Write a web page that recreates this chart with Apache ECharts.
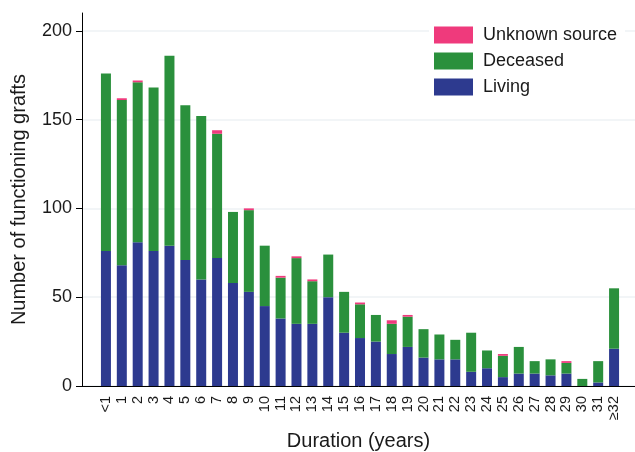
<!DOCTYPE html>
<html>
<head>
<meta charset="utf-8">
<script src="https://cdn.jsdelivr.net/npm/echarts@6/dist/echarts.min.js"></script>
<style>html,body{margin:0;padding:0;background:#fff}#c{width:635px;height:452px}</style>
</head>
<body>
<div id="c"></div>
<script>
const categories = ['<1','1','2','3','4','5','6','7','8','9','10','11','12','13','14','15','16','17','18','19','20','21','22','23','24','25','26','27','28','29','30','31','≥32'];
const living   = [76,68,81,76,79,71,60,72,58,53,45,38,35,35,50,30,27,25,18,22,16,15,15,8,10,5,7,7,6,7,0,2,21];
const deceased = [100,93,90,92,107,87,92,70,40,46,34,23,37,24,24,23,19,15,17,17,16,14,11,22,10,12,15,7,9,6,4,12,34];
const unknown  = [0,1,1,0,0,0,0,2,0,1,0,1,1,1,0,0,1,0,2,1,0,0,0,0,0,1,0,0,0,1,0,0,0];
const yTicks = [0,50,100,150,200];

const FONT = 'Liberation Sans, Arial, sans-serif';
const TXT = '#1a1a1a';

const chart = echarts.init(document.getElementById('c'), null, {renderer:'canvas'});
chart.setOption({
  backgroundColor:'#ffffff',
  animation:false,
  textStyle:{fontFamily:FONT},
  grid:[
    {left:98,right:13,top:13,bottom:66,containLabel:false,outerBoundsMode:'none'},
    {left:82,right:0,top:13,bottom:66,containLabel:false,outerBoundsMode:'none'}
  ],
  legend:{
    orient:'vertical', left:429, top:21,
    padding:[5,8,5,5],
    backgroundColor:'#ffffff',
    itemWidth:39, itemHeight:17, itemGap:8,
    icon:'rect',
    textStyle:{fontFamily:FONT,fontSize:18,color:TXT,lineHeight:17,padding:[0,0,0,5]},
    data:['Unknown source','Deceased','Living']
  },
  xAxis:[
    {
      type:'category', gridIndex:0, data:categories, boundaryGap:true,
      axisLine:{show:false}, axisTick:{show:false}, splitLine:{show:false},
      axisLabel:{interval:0, rotate:90, margin:10, fontFamily:FONT, fontSize:14.5, color:TXT}
    },
    {
      type:'value', gridIndex:1, min:0, max:1,
      name:'Duration (years)', nameLocation:'middle', nameGap:45,
      nameTextStyle:{fontFamily:FONT,fontSize:20,color:TXT},
      axisLine:{show:true,onZero:false,lineStyle:{color:'#000',width:1}},
      axisTick:{show:false}, axisLabel:{show:false}, splitLine:{show:false}
    }
  ],
  yAxis:[
    {type:'value', gridIndex:0, min:0, max:210, show:false, splitLine:{show:false}},
    {
      type:'value', gridIndex:1, min:0, max:210,
      name:'Number of functioning grafts', nameLocation:'middle', nameGap:53,
      nameTextStyle:{fontFamily:FONT,fontSize:20,color:TXT},
      axisLine:{show:true,lineStyle:{color:'#000',width:1}},
      axisTick:{show:true,customValues:yTicks,length:6,lineStyle:{color:'#000'}},
      axisLabel:{customValues:yTicks,margin:10,fontFamily:FONT,fontSize:18,color:TXT},
      splitLine:{show:true,lineStyle:{color:'#eef2f4',width:1.5}}
    }
  ],
  series:[
    {name:'Living',type:'bar',stack:'g',xAxisIndex:0,yAxisIndex:0,barWidth:10,itemStyle:{color:'#2d3a8f'},data:living},
    {name:'Deceased',type:'bar',stack:'g',xAxisIndex:0,yAxisIndex:0,barWidth:10,itemStyle:{color:'#2a903c'},data:deceased},
    {name:'Unknown source',type:'bar',stack:'g',xAxisIndex:0,yAxisIndex:0,barWidth:10,itemStyle:{color:'#ef3a7c'},data:unknown}
  ]
});
</script>
</body>
</html>
